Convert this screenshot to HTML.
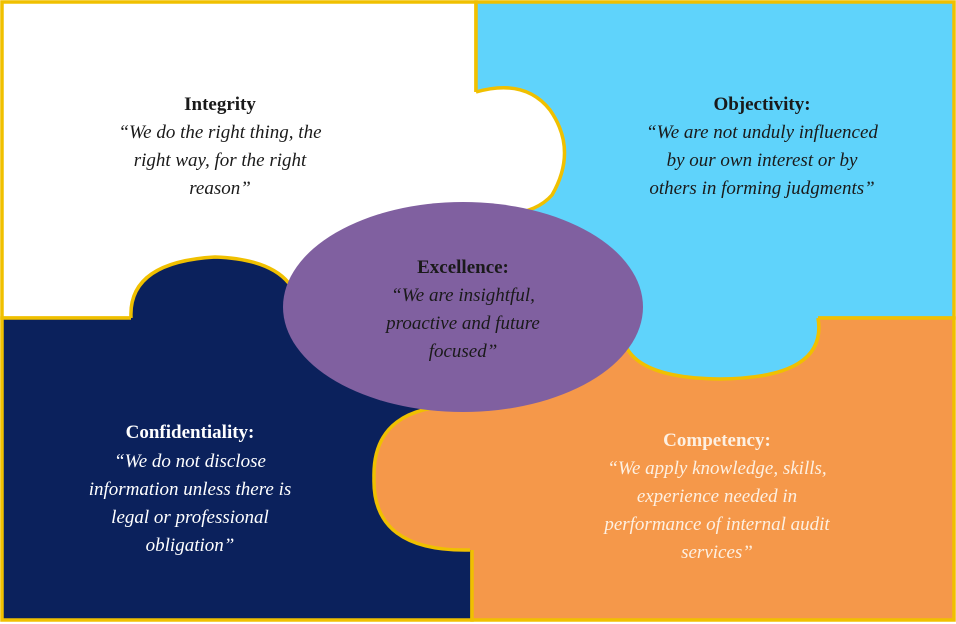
<!DOCTYPE html>
<html><head><meta charset="utf-8"><style>
html,body{margin:0;padding:0;background:#fff;}
svg{display:block}
text{font-family:"Liberation Serif",serif;font-size:19px;text-anchor:middle;}
.h{font-weight:bold;font-style:normal;}
.i{font-style:italic;}
</style></head><body>
<svg width="956" height="624" viewBox="0 0 956 624" xmlns="http://www.w3.org/2000/svg">
<g stroke="#f0c000" stroke-width="3.5">
<rect x="2" y="2" width="474" height="316" fill="#ffffff"/>
<rect x="476" y="2" width="478" height="316" fill="#5fd3fb"/>
<rect x="2" y="318" width="470" height="302" fill="#0b215c"/>
<rect x="472" y="318" width="482" height="302" fill="#f5984a"/>
</g>
<g stroke="none">
<path d="M466,92 L476,92 Q525,78 550,110 Q578,150 552,195 Q530,220 476,213 L466,213 Z" fill="#ffffff"/>
<path d="M623,308 L623,318 Q612,378 720,379 Q828,378 818,318 L818,308 Z" fill="#5fd3fb"/>
<path d="M131,328 L131,318 Q128,262 215,257 Q300,260 300,318 L300,328 Z" fill="#0b215c"/>
<path d="M480,406 L470,406 Q372,402 374,478 Q372,552 470,550 L480,550 Z" fill="#f5984a"/>
</g>
<g stroke="#f0c000" stroke-width="3.5" fill="none">
<path d="M476,92 Q525,78 550,110 Q578,150 552,195 Q530,220 476,213"/>
<path d="M623,318 Q612,378 720,379 Q828,378 818,318"/>
<path d="M131,318 Q128,262 215,257 Q300,260 300,318"/>
<path d="M470,406 Q372,402 374,478 Q372,552 470,550"/>
</g>
<ellipse cx="463" cy="307" rx="180" ry="105" fill="#8060a0"/>
<g fill="#1a1a1a">
<text x="220" y="110" class="h">Integrity</text>
<text x="220" y="138" class="i">“We do the right thing, the</text>
<text x="220" y="166" class="i">right way, for the right</text>
<text x="220" y="194" class="i">reason”</text>
<text x="762" y="110" class="h">Objectivity:</text>
<text x="762" y="138" class="i">“We are not unduly influenced</text>
<text x="762" y="166" class="i">by our own interest or by</text>
<text x="762" y="194" class="i">others in forming judgments”</text>
<text x="463" y="273" class="h">Excellence:</text>
<text x="463" y="301" class="i">“We are insightful,</text>
<text x="463" y="329" class="i">proactive and future</text>
<text x="463" y="357" class="i">focused”</text>
</g>
<g fill="#ffffff">
<text x="190" y="438" class="h">Confidentiality:</text>
<text x="190" y="467" class="i">“We do not disclose</text>
<text x="190" y="495" class="i">information unless there is</text>
<text x="190" y="523" class="i">legal or professional</text>
<text x="190" y="551" class="i">obligation”</text>
</g>
<g fill="#fdf0e2">
<text x="717" y="446" class="h">Competency:</text>
<text x="717" y="474" class="i">“We apply knowledge, skills,</text>
<text x="717" y="502" class="i">experience needed in</text>
<text x="717" y="530" class="i">performance of internal audit</text>
<text x="717" y="558" class="i">services”</text>
</g>
</svg>
</body></html>
